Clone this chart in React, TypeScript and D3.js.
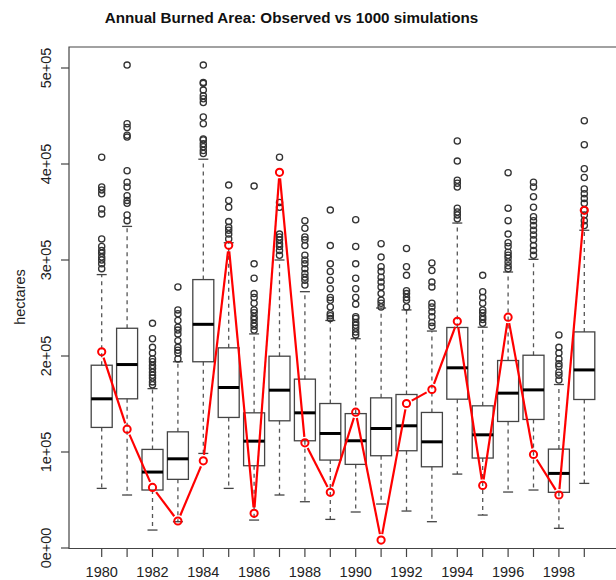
import React from "react";
import * as d3 from "d3";

// Simulated annual burned area (hectares): box summaries per year
const years = d3.range(1980, 2000);
const upperHinge = [190400, 228900, 102700, 121000, 279600, 208500, 140800, 199800, 175900, 150500, 140000, 156400, 159900, 141200, 229700, 148100, 195300, 200800, 103000, 225100];
const medians = [155400, 191100, 79100, 92900, 233000, 167200, 111300, 164400, 140800, 119300, 111700, 124500, 127300, 110600, 187700, 117900, 161300, 164700, 77700, 185500];
const lowerHinge = [125600, 155400, 60400, 71500, 194000, 136000, 85700, 132500, 111700, 91600, 87100, 96100, 101300, 84600, 155000, 93700, 131800, 133900, 58000, 154700];
const whiskerLow = [62100, 55200, 18700, 27400, 98500, 62100, 29100, 55200, 48200, 29800, 37500, 45800, 38500, 27400, 77000, 34300, 58300, 60400, 20500, 67300];
const whiskerHigh = [284800, 335000, 166000, 194000, 405000, 318000, 223000, 300000, 267000, 237000, 218000, 250000, 248000, 226000, 338500, 230000, 287500, 300700, 170300, 331000];

// Simulated outliers per year (thousand hectares)
const outliersK = [
  [291, 296, 300, 303, 307, 310, 314, 322, 348, 353, 369, 373, 376, 407],
  [341, 347, 359, 362, 367, 376, 381, 393, 428, 430, 438, 442, 503],
  [170, 173, 177, 180, 183, 187, 190, 194, 197, 203, 209, 218, 234],
  [197, 203, 206, 209, 216, 223, 227, 230, 237, 244, 248, 272],
  [411, 414, 418, 421, 425, 426, 442, 449, 464, 468, 471, 477, 484, 485, 503],
  [322, 327, 331, 334, 340, 355, 362, 378],
  [227, 231, 234, 238, 241, 245, 248, 255, 261, 265, 281, 296, 377],
  [305, 310, 314, 317, 321, 324, 327, 355, 360, 407],
  [274, 279, 282, 286, 291, 296, 300, 305, 315, 321, 324, 333, 341],
  [239, 242, 244, 251, 258, 261, 270, 279, 288, 296, 315, 352],
  [222, 225, 229, 232, 235, 239, 241, 254, 261, 270, 281, 296, 314, 342],
  [251, 255, 258, 265, 272, 277, 282, 288, 293, 303, 317],
  [251, 258, 261, 265, 268, 284, 293, 312],
  [231, 235, 241, 246, 251, 255, 272, 277, 289, 297],
  [343, 347, 350, 354, 376, 380, 383, 403, 424],
  [234, 238, 241, 245, 248, 255, 261, 267, 284],
  [291, 294, 298, 302, 305, 308, 314, 318, 327, 341, 354, 391],
  [305, 310, 315, 321, 326, 331, 336, 341, 345, 355, 366, 376, 381],
  [175, 180, 183, 189, 192, 197, 203, 209, 222],
  [336, 341, 347, 352, 359, 364, 369, 374, 386, 395, 420, 445],
];

// Observed annual burned area (hectares)
const observed = [204300, 123800, 63100, 28100, 90800, 315300, 36100, 391300, 109600, 58000, 141500, 8300, 150500, 165100, 236200, 65200, 240400, 97500, 55200, 351700];

const yTicks = [0, 100000, 200000, 300000, 400000, 500000];
const yTickLabels = ["0e+00", "1e+05", "2e+05", "3e+05", "4e+05", "5e+05"];
const xLabelYears = [1980, 1982, 1984, 1986, 1988, 1990, 1992, 1994, 1996, 1998];

const W = 616;
const H = 580;
const frame = { left: 69, top: 47, right: 640, bottom: 548.5 };
const FONT = "'Liberation Sans', Arial, Helvetica, sans-serif";

export default function App() {
  const x = d3.scalePoint<number>().domain(years).range([101.7, 584.3]);
  const y = d3.scaleLinear().domain([0, 500000]).range([548, 68]);
  const boxW = 21;
  const capW = 10;
  const gap = 6;

  // Observed line drawn with gaps around each point
  const segs: { x1: number; y1: number; x2: number; y2: number }[] = [];
  for (let i = 0; i < years.length - 1; i++) {
    const ax = x(years[i])!, ay = y(observed[i]);
    const bx = x(years[i + 1])!, by = y(observed[i + 1]);
    const len = Math.hypot(bx - ax, by - ay);
    if (len <= 2 * gap) continue;
    const ux = (bx - ax) / len, uy = (by - ay) / len;
    segs.push({ x1: ax + ux * gap, y1: ay + uy * gap, x2: bx - ux * gap, y2: by - uy * gap });
  }

  return (
    <>
      <style>{"html,body{margin:0;padding:0;overflow:hidden;background:#fff}"}</style>
      <svg width={W} height={H} style={{ position: "absolute", left: 0, top: 0, display: "block", background: "#fff", overflow: "hidden" }} fontFamily={FONT}>
        <text x={291.5} y={23} textAnchor="middle" fontSize={15.2} fontWeight="bold" fill="#111">
          Annual Burned Area: Observed vs 1000 simulations
        </text>

        {/* frame (right side lies beyond the visible area) */}
        <path d={`M${frame.right},${frame.bottom}H${frame.left}V${frame.top}H${frame.right}`} fill="none" stroke="#444" strokeWidth={1.2} />

        {/* y axis */}
        {yTicks.map((t, i) => (
          <g key={t}>
            <line x1={61} x2={frame.left} y1={y(t)} y2={y(t)} stroke="#444" strokeWidth={1.2} />
            <text transform={`translate(51,${y(t)}) rotate(-90)`} textAnchor="middle" fontSize={14.5} fill="#222">
              {yTickLabels[i]}
            </text>
          </g>
        ))}
        <text transform={`translate(25,297) rotate(-90)`} textAnchor="middle" fontSize={14.5} fill="#222">
          hectares
        </text>

        {/* x axis */}
        {years.map((yr) => (
          <line key={yr} x1={x(yr)} x2={x(yr)} y1={frame.bottom} y2={557} stroke="#444" strokeWidth={1.2} />
        ))}
        {xLabelYears.map((yr) => (
          <text key={yr} x={x(yr)} y={577} textAnchor="middle" fontSize={14.5} fill="#222">
            {yr}
          </text>
        ))}

        {/* boxes */}
        {years.map((yr, i) => {
          const cx = x(yr)!;
          return (
            <g key={yr}>
              <line x1={cx} x2={cx} y1={y(upperHinge[i])} y2={y(whiskerHigh[i])} stroke="#555" strokeWidth={1.3} strokeDasharray="4,4" />
              <line x1={cx} x2={cx} y1={y(lowerHinge[i])} y2={y(whiskerLow[i])} stroke="#555" strokeWidth={1.3} strokeDasharray="4,4" />
              <line x1={cx - capW / 2} x2={cx + capW / 2} y1={y(whiskerHigh[i])} y2={y(whiskerHigh[i])} stroke="#444" strokeWidth={1.3} />
              <line x1={cx - capW / 2} x2={cx + capW / 2} y1={y(whiskerLow[i])} y2={y(whiskerLow[i])} stroke="#444" strokeWidth={1.3} />
              <rect x={cx - boxW / 2} y={y(upperHinge[i])} width={boxW} height={y(lowerHinge[i]) - y(upperHinge[i])} fill="none" stroke="#444" strokeWidth={1.3} />
              <line x1={cx - boxW / 2} x2={cx + boxW / 2} y1={y(medians[i])} y2={y(medians[i])} stroke="#000" strokeWidth={3} />
              {outliersK[i].map((v, j) => (
                <circle key={j} cx={cx} cy={y(v * 1000)} r={3.1} fill="none" stroke="#333" strokeWidth={1.3} />
              ))}
            </g>
          );
        })}

        {/* observed series */}
        {segs.map((s, i) => (
          <line key={i} x1={s.x1} y1={s.y1} x2={s.x2} y2={s.y2} stroke="#ff0000" strokeWidth={2.2} />
        ))}
        {years.map((yr, i) => (
          <circle key={yr} cx={x(yr)} cy={y(observed[i])} r={3.6} fill="none" stroke="#ff0000" strokeWidth={2} />
        ))}
      </svg>
    </>
  );
}
